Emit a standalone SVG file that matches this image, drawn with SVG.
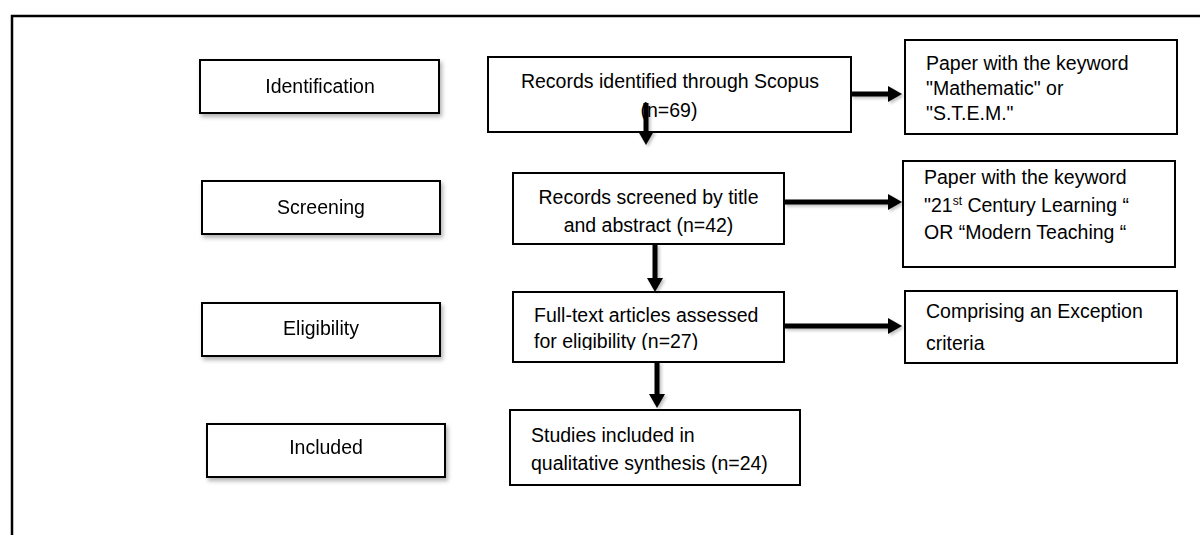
<svg xmlns="http://www.w3.org/2000/svg" width="1200" height="535" viewBox="0 0 1200 535">
  <style>
    .box { fill: #ffffff; stroke: #000000; stroke-width: 2; }
    .lbl { font-family: "Liberation Sans", Arial, sans-serif; font-size: 19.5px; fill: #000000; }
    .mid { text-anchor: middle; }
    .conn { stroke: #000000; stroke-width: 5; fill: none; }
    .frame { stroke: #000000; stroke-width: 2.5; fill: none; }
  </style>
  <defs>
    <filter id="shadow" x="-10%" y="-20%" width="130%" height="160%">
      <feDropShadow dx="2" dy="3" stdDeviation="2" flood-color="#000000" flood-opacity="0.3"/>
    </filter>
    <filter id="ashadow" x="-20%" y="-20%" width="140%" height="140%">
      <feDropShadow dx="2" dy="2" stdDeviation="1.5" flood-color="#000000" flood-opacity="0.25"/>
    </filter>
    <marker id="head" viewBox="0 0 14 16" refX="0" refY="8" markerWidth="14" markerHeight="16" markerUnits="userSpaceOnUse" orient="auto">
      <path d="M0,0 L14,8 L0,16 z" fill="#000000"/>
    </marker>
    <clipPath id="clipFT">
      <rect x="513" y="292" width="271" height="58"/>
    </clipPath>
  </defs>

  <rect x="0" y="0" width="1200" height="535" fill="#ffffff"/>
  <path class="frame" d="M12,535 V16 H1200"/>

  <g id="stage-identification" filter="url(#shadow)">
    <rect class="box" x="200" y="60" width="239" height="53"/>
    <text class="lbl mid" x="320" y="93">Identification</text>
  </g>
  <g id="stage-screening" filter="url(#shadow)">
    <rect class="box" x="202" y="181" width="238" height="53"/>
    <text class="lbl mid" x="321" y="214">Screening</text>
  </g>
  <g id="stage-eligibility" filter="url(#shadow)">
    <rect class="box" x="202" y="303" width="238" height="53"/>
    <text class="lbl mid" x="321" y="335">Eligibility</text>
  </g>
  <g id="stage-included" filter="url(#shadow)">
    <rect class="box" x="207" y="424" width="238" height="53"/>
    <text class="lbl mid" x="326" y="454">Included</text>
  </g>

  <g id="records-identified">
    <rect class="box" x="488" y="57" width="363" height="75"/>
    <text class="lbl mid" x="670" y="88">Records identified through Scopus</text>
    <text class="lbl mid" x="669" y="117">(n=69)</text>
  </g>
  <g id="keyword-math">
    <rect class="box" x="905" y="40" width="272" height="94"/>
    <text class="lbl" x="926" y="70">Paper with the keyword</text>
    <text class="lbl" x="926" y="95">"Mathematic" or</text>
    <text class="lbl" x="926" y="120">"S.T.E.M."</text>
  </g>
  <g id="records-screened">
    <rect class="box" x="513" y="173" width="271" height="71"/>
    <text class="lbl mid" x="648.5" y="204">Records screened by title</text>
    <text class="lbl mid" x="648.5" y="232">and abstract (n=42)</text>
  </g>
  <g id="keyword-21st">
    <rect class="box" x="903" y="161" width="272" height="106"/>
    <text class="lbl" x="924" y="184">Paper with the keyword</text>
    <text class="lbl" x="924" y="212">"21<tspan font-size="12" dy="-7">st</tspan><tspan dy="7"> Century Learning “</tspan></text>
    <text class="lbl" x="924" y="239">OR “Modern Teaching “</text>
  </g>
  <g id="full-text">
    <rect class="box" x="513" y="292" width="271" height="70"/>
    <g clip-path="url(#clipFT)">
      <text class="lbl" x="534" y="322">Full-text articles assessed</text>
      <text class="lbl" x="534" y="348">for eligibility (n=27)</text>
    </g>
  </g>
  <g id="exception">
    <rect class="box" x="905" y="291" width="272" height="72"/>
    <text class="lbl" x="926" y="318">Comprising an Exception</text>
    <text class="lbl" x="926" y="350">criteria</text>
  </g>
  <g id="studies-included">
    <rect class="box" x="510" y="410" width="290" height="75"/>
    <text class="lbl" x="531" y="442">Studies included in</text>
    <text class="lbl" x="531" y="470">qualitative synthesis (n=24)</text>
  </g>

  <g id="connectors" filter="url(#ashadow)">
    <line class="conn" x1="851" y1="94" x2="888" y2="94" marker-end="url(#head)"/>
    <line class="conn" x1="784" y1="202" x2="888" y2="202" marker-end="url(#head)"/>
    <line class="conn" x1="784" y1="326" x2="888" y2="326" marker-end="url(#head)"/>
    <line class="conn" x1="646" y1="103" x2="646" y2="131" marker-end="url(#head)"/>
    <line class="conn" x1="655" y1="244" x2="655" y2="278" marker-end="url(#head)"/>
    <line class="conn" x1="657" y1="362" x2="657" y2="394" marker-end="url(#head)"/>
  </g>
</svg>
